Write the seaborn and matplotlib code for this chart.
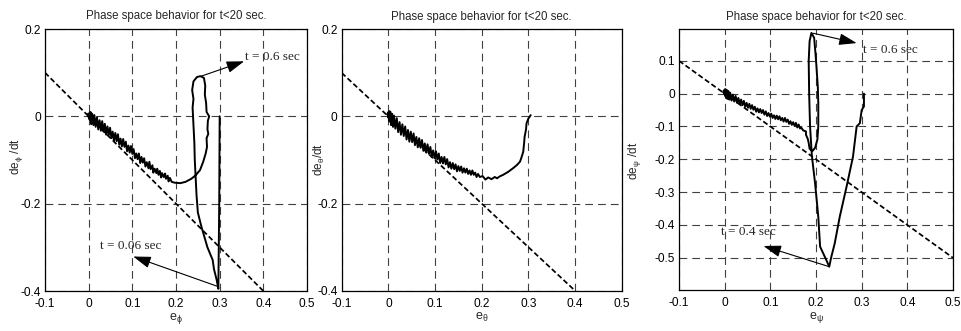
"""
Phase space behaviour of the three attitude errors (phi, theta, psi)
for t < 20 sec, with the sliding line de/dt = -e drawn dashed.
"""

import numpy as np
import pandas as pd
import matplotlib
matplotlib.use("Agg")
import matplotlib.pyplot as plt
import seaborn as sns

# ── Data ─────────────────────────────────────────────────────────────────────
# phi channel: e_phi, de_phi/dt (time order, t = 0 at (0.3, 0))
phi_e = [0.300, 0.299, 0.297, 0.293, 0.287, 0.284, 0.272, 0.258, 0.250, 0.247,
         0.245, 0.243, 0.242, 0.240, 0.238, 0.240, 0.237, 0.240, 0.248, 0.256,
         0.264, 0.267, 0.266, 0.269, 0.270, 0.276, 0.273, 0.272, 0.274, 0.270,
         0.271, 0.268, 0.262, 0.255, 0.245, 0.235, 0.222, 0.210, 0.197, 0.190,
         0.186, 0.183, 0.181, 0.177, 0.175, 0.172, 0.168, 0.166, 0.163, 0.160,
         0.157, 0.155, 0.151, 0.148, 0.146, 0.142, 0.139, 0.137, 0.133, 0.130,
         0.127, 0.124, 0.121, 0.118, 0.115, 0.112, 0.109, 0.106, 0.103, 0.100,
         0.097, 0.094, 0.091, 0.088, 0.085, 0.082, 0.079, 0.076, 0.073, 0.070,
         0.067, 0.064, 0.061, 0.058, 0.055, 0.052, 0.049, 0.046, 0.043, 0.040,
         0.037, 0.034, 0.031, 0.028, 0.025, 0.022, 0.019, 0.016, 0.013, 0.011,
         0.008, 0.006, 0.004, 0.007, 0.002, 0.005, -0.001, 0.003, -0.002, 0.002,
         0.000, 0.001, 0.000]
phi_de = [0.000, -0.200, -0.395, -0.374, -0.350, -0.329, -0.300, -0.252, -0.220, -0.180,
          -0.140, -0.100, -0.060, -0.020, 0.020, 0.040, 0.060, 0.080, 0.090, 0.092,
          0.088, 0.070, 0.050, 0.030, 0.010, 0.000, -0.010, -0.030, -0.040, -0.050,
          -0.070, -0.085, -0.105, -0.123, -0.135, -0.143, -0.150, -0.153, -0.152, -0.150,
          -0.141, -0.149, -0.136, -0.143, -0.131, -0.139, -0.130, -0.140, -0.125, -0.134,
          -0.120, -0.130, -0.120, -0.129, -0.112, -0.121, -0.104, -0.119, -0.105, -0.115,
          -0.096, -0.106, -0.093, -0.107, -0.085, -0.098, -0.085, -0.096, -0.075, -0.086,
          -0.068, -0.083, -0.067, -0.080, -0.058, -0.070, -0.052, -0.069, -0.051, -0.065,
          -0.041, -0.057, -0.038, -0.056, -0.035, -0.050, -0.026, -0.043, -0.023, -0.042,
          -0.017, -0.035, -0.011, -0.033, -0.009, -0.030, -0.002, -0.024, 0.003, -0.020,
          0.006, -0.018, 0.010, -0.012, 0.008, -0.010, 0.006, -0.008, 0.004, -0.006,
          0.002, -0.003, 0.000]

# theta channel
theta_e = [0.305, 0.300, 0.296, 0.295, 0.292, 0.291, 0.289, 0.285, 0.282, 0.275,
           0.267, 0.257, 0.246, 0.238, 0.233, 0.228, 0.221, 0.214, 0.208, 0.202,
           0.196, 0.192, 0.189, 0.186, 0.183, 0.180, 0.177, 0.174, 0.171, 0.168,
           0.165, 0.162, 0.159, 0.156, 0.153, 0.150, 0.147, 0.144, 0.141, 0.138,
           0.135, 0.132, 0.129, 0.126, 0.123, 0.120, 0.117, 0.114, 0.111, 0.108,
           0.105, 0.102, 0.099, 0.096, 0.093, 0.090, 0.087, 0.084, 0.081, 0.078,
           0.075, 0.072, 0.069, 0.066, 0.063, 0.060, 0.057, 0.054, 0.051, 0.048,
           0.045, 0.042, 0.039, 0.036, 0.033, 0.030, 0.027, 0.024, 0.021, 0.018,
           0.015, 0.012, 0.010, 0.008, 0.006, 0.004, 0.007, 0.002, 0.005, -0.001,
           0.003, -0.002, 0.002, 0.000, 0.000]
theta_de = [0.003, -0.005, -0.016, -0.030, -0.046, -0.060, -0.081, -0.095, -0.104, -0.112,
            -0.119, -0.127, -0.134, -0.138, -0.142, -0.139, -0.144, -0.140, -0.145, -0.137,
            -0.139, -0.132, -0.139, -0.129, -0.134, -0.124, -0.134, -0.124, -0.132, -0.120,
            -0.129, -0.119, -0.129, -0.115, -0.125, -0.114, -0.126, -0.110, -0.121, -0.107,
            -0.120, -0.105, -0.117, -0.098, -0.110, -0.093, -0.108, -0.093, -0.107, -0.085,
            -0.099, -0.080, -0.096, -0.078, -0.093, -0.070, -0.086, -0.064, -0.083, -0.062,
            -0.079, -0.054, -0.072, -0.050, -0.071, -0.047, -0.066, -0.039, -0.059, -0.035,
            -0.058, -0.031, -0.053, -0.023, -0.045, -0.018, -0.042, -0.013, -0.036, -0.004,
            -0.028, 0.002, -0.024, 0.006, -0.020, 0.011, -0.014, 0.012, -0.010, 0.009,
            -0.012, 0.006, -0.006, 0.003, 0.000]

# psi channel
psi_e = [0.305, 0.305, 0.300, 0.296, 0.289, 0.281, 0.267, 0.252, 0.241, 0.233,
         0.229, 0.222, 0.209, 0.205, 0.198, 0.191, 0.187, 0.185, 0.184, 0.186,
         0.190, 0.196, 0.199, 0.201, 0.204, 0.205, 0.205, 0.203, 0.198, 0.192,
         0.186, 0.184, 0.182, 0.178, 0.178, 0.172, 0.168, 0.165, 0.162, 0.159,
         0.156, 0.153, 0.150, 0.147, 0.144, 0.141, 0.138, 0.135, 0.132, 0.129,
         0.126, 0.123, 0.120, 0.117, 0.114, 0.111, 0.108, 0.105, 0.102, 0.099,
         0.096, 0.093, 0.090, 0.087, 0.084, 0.081, 0.078, 0.075, 0.072, 0.069,
         0.066, 0.063, 0.060, 0.057, 0.054, 0.051, 0.048, 0.045, 0.042, 0.039,
         0.036, 0.033, 0.030, 0.027, 0.024, 0.021, 0.018, 0.015, 0.012, 0.010,
         0.008, 0.006, 0.004, 0.006, 0.001, 0.004, -0.002, 0.002, -0.003, 0.001,
         0.000]
psi_de = [0.000, -0.039, -0.050, -0.090, -0.100, -0.192, -0.283, -0.375, -0.456, -0.500,
          -0.527, -0.505, -0.466, -0.375, -0.273, -0.190, -0.100, 0.000, 0.100, 0.160,
          0.185, 0.170, 0.120, 0.083, 0.020, -0.030, -0.100, -0.140, -0.165, -0.175,
          -0.168, -0.150, -0.138, -0.125, -0.115, -0.112, -0.104, -0.106, -0.094, -0.103,
          -0.089, -0.098, -0.087, -0.095, -0.084, -0.092, -0.079, -0.086, -0.074, -0.085,
          -0.074, -0.081, -0.069, -0.078, -0.067, -0.077, -0.066, -0.074, -0.061, -0.070,
          -0.059, -0.068, -0.054, -0.064, -0.050, -0.059, -0.047, -0.057, -0.045, -0.055,
          -0.040, -0.049, -0.035, -0.046, -0.031, -0.043, -0.028, -0.040, -0.022, -0.035,
          -0.018, -0.032, -0.013, -0.028, -0.007, -0.024, -0.003, -0.021, 0.003, -0.018,
          0.008, -0.016, 0.012, -0.010, 0.014, -0.012, 0.010, -0.008, 0.006, -0.004,
          0.000]

# sliding line de/dt = -e (end points)
slide_e_12 = [-0.1, 0.4]
slide_de_12 = [0.1, -0.4]
slide_e_3 = [-0.1, 0.5]
slide_de_3 = [0.1, -0.5]

x_ticks = [-0.1, 0.0, 0.1, 0.2, 0.3, 0.4, 0.5]
x_tick_labels = ["-0.1", "0", "0.1", "0.2", "0.3", "0.4", "0.5"]
y_ticks_12 = [-0.4, -0.2, 0.0, 0.2]
y_tick_labels_12 = ["-0.4", "-0.2", "0", "0.2"]
y_ticks_3 = [-0.5, -0.4, -0.3, -0.2, -0.1, 0.0, 0.1]
y_tick_labels_3 = ["-0.5", "-0.4", "-0.3", "-0.2", "-0.1", "0", "0.1"]

title = "Phase space behavior for t<20 sec."
x_labels = [r"$\mathregular{e_{\phi}}$", r"$\mathregular{e_{\theta}}$",
            r"$\mathregular{e_{\psi}}$"]
y_labels = [r"$\mathregular{de_{\phi}\ /dt}$", r"$\mathregular{de_{\theta}/dt}$",
            r"$\mathregular{de_{\psi}\ /dt}$"]

# annotations: (text, text xy, arrow start xy, arrow head xy)
notes = {
    0: [("t = 0.6 sec", (0.357, 0.136), (0.258, 0.092), (0.356, 0.126)),
        ("t = 0.06 sec", (0.026, -0.298), (0.294, -0.389), (0.102, -0.321))],
    1: [],
    2: [("t = 0.6 sec", (0.302, 0.134), (0.194, 0.184), (0.289, 0.154)),
        ("t = 0.4 sec", (-0.007, -0.420), (0.229, -0.527), (0.085, -0.464))],
}

# ── Style ────────────────────────────────────────────────────────────────────
sns.set_theme(style="white")
plt.rcParams["font.family"] = ["Liberation Sans", "DejaVu Sans"]
plt.rcParams["mathtext.fontset"] = "custom"
plt.rcParams["mathtext.rm"] = "Liberation Sans"

fig = plt.figure(figsize=(9.62, 3.31), dpi=100)
fig.patch.set_facecolor("white")

positions = [
    [45 / 962, 40 / 331, 262 / 962, 262 / 331],
    [341.7 / 962, 40.3 / 331, 280 / 962, 261.4 / 331],
    [679 / 962, 41 / 331, 274 / 962, 260.7 / 331],
]
# y-label anchor (right edge of rotated text), axes fraction
ylabel_xy = [(-0.076, 0.515), (-0.053, 0.504), (-0.131, 0.495)]

curves = [(phi_e, phi_de), (theta_e, theta_de), (psi_e, psi_de)]

for i, pos in enumerate(positions):
    ax = fig.add_axes(pos)
    e, de = curves[i]
    df = pd.DataFrame({"e": e, "de": de})

    if i < 2:
        sx, sy = slide_e_12, slide_de_12
    else:
        sx, sy = slide_e_3, slide_de_3
    sns.lineplot(x=sx, y=sy, ax=ax, color="black", lw=1.25,
                 linestyle=(0, (3.0, 1.6)), sort=False, estimator=None)
    sns.lineplot(data=df, x="e", y="de", ax=ax, color="black", lw=1.4,
                 sort=False, estimator=None)

    ax.set_xlim(-0.1, 0.5)
    ax.set_xticks(x_ticks)
    ax.set_xticklabels(x_tick_labels)
    if i < 2:
        ax.set_ylim(-0.4, 0.2)
        ax.set_yticks(y_ticks_12)
        ax.set_yticklabels(y_tick_labels_12)
    else:
        ax.set_ylim(-0.598, 0.196)
        ax.set_yticks(y_ticks_3)
        ax.set_yticklabels(y_tick_labels_3)

    ax.grid(True, color="0.25", lw=0.8, linestyle=(0, (7, 4.5)))
    ax.set_axisbelow(True)
    for sp in ax.spines.values():
        sp.set_visible(True)
        sp.set_color("black")
        sp.set_linewidth(0.9)
    ax.tick_params(direction="in", length=3, width=0.7, labelsize=8.6,
                   colors="black")
    ax.tick_params(axis="x", pad=5)
    ax.tick_params(axis="y", pad=3)

    ax.set_title(title, fontsize=8.3, pad=7)
    ax.set_xlabel(x_labels[i], fontsize=9, labelpad=1)
    ax.set_ylabel(y_labels[i], fontsize=8.5)
    ax.yaxis.set_label_coords(*ylabel_xy[i])

    for txt, txy, a0, a1 in notes[i]:
        ax.text(txy[0], txy[1], txt, family=["Liberation Serif", "DejaVu Serif"],
                fontsize=9.5, va="center", ha="left")
        ax.annotate("", xy=a1, xytext=a0,
                    arrowprops=dict(arrowstyle="-|>,head_length=0.9,head_width=0.3",
                                    color="black", lw=0.8, shrinkA=0, shrinkB=0))

fig.savefig("out.png", dpi=100, facecolor="white")
plt.close(fig)
